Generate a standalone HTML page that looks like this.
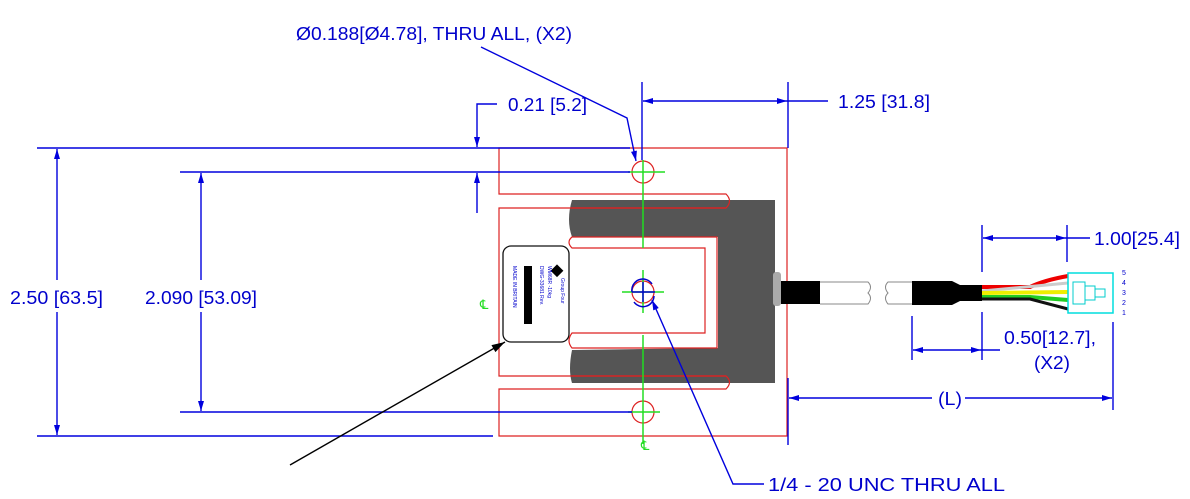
<!DOCTYPE html>
<html><head><meta charset="utf-8"><style>
html,body{margin:0;padding:0;background:#fff;}
svg{display:block;}
text{font-family:"Liberation Sans",sans-serif;fill:#0000cc;}
</style></head><body>
<svg width="1190" height="499" viewBox="0 0 1190 499" xmlns="http://www.w3.org/2000/svg">
<defs>
<marker id="a" viewBox="0 0 10 6" refX="10" refY="3" markerWidth="14" markerHeight="6" orient="auto-start-reverse" markerUnits="userSpaceOnUse"><path d="M0,0L10,3L0,6z" fill="#0000dd"/></marker>
<marker id="k" viewBox="0 0 10 6" refX="10" refY="3" markerWidth="16" markerHeight="8" orient="auto" markerUnits="userSpaceOnUse"><path d="M0,0L10,3L0,6z" fill="#000"/></marker>
</defs>
<path d="M572,200 L775,200 L775,383 L572,383 Q568,370 572,350 L718,348 L718,237 L572,237 Q566,220 572,200Z" fill="#555"/>
<g fill="none" stroke="#dd2222" stroke-width="1.2">
<path d="M499,148 L787,148 L787,436 L499,436 L499,389 L726,389 Q733,382 726,376 L499,376 L499,208 L726,208 Q733,201 726,194 L499,194 Z"/>
<path d="M572,237 L717,237 L717,348 L572,348 Q566,341 572,333 L705,333 L705,248 L572,248 Q566,242 572,237Z" fill="#fff"/>
<path d="M572,208 L726,208 M572,376 L726,376"/>
<circle cx="643" cy="172" r="11" fill="#fff"/>
<circle cx="643" cy="412" r="11" fill="#fff"/>
<circle cx="643" cy="292" r="11"/>
</g>
<path d="M499,208 L499,376" stroke="#dd2222" fill="none"/>
<g stroke="#22dd22" stroke-width="1.5" fill="none">
<line x1="643" y1="160" x2="643" y2="248"/><line x1="628" y1="172" x2="665" y2="172"/>
<line x1="643" y1="270" x2="643" y2="313"/><line x1="622" y1="292" x2="664" y2="292"/>
<line x1="643" y1="335" x2="643" y2="444"/><line x1="628" y1="412" x2="660" y2="412"/>
</g>
<text x="480" y="309" font-size="13" style="fill:#22dd22">℄</text>
<text x="641" y="450" font-size="13" style="fill:#22dd22">℄</text>
<g stroke="#0000cc" stroke-width="1.5" fill="none"><path d="M632,292 A11,11 0 0 1 652,284 M654,296 A11,11 0 0 1 634,302"/><line x1="632" y1="292" x2="655" y2="292"/><line x1="643" y1="282" x2="643" y2="302"/></g>
<rect x="503" y="246" width="66" height="96" rx="8" fill="#fff" stroke="#111" stroke-width="1.3"/>
<rect x="524" y="266" width="8" height="58" fill="#000"/>
<rect x="553" y="266" width="9" height="9" fill="#000" transform="rotate(45 557 270)"/>
<g font-size="5" style="fill:#222"><text transform="translate(561,278) rotate(90)">Group Four</text><text transform="translate(548,266) rotate(90)">WM68R  -10kg</text><text transform="translate(540,266) rotate(90)">DWG-33681 Rev.</text><text transform="translate(513,266) rotate(90)">MADE IN BRITAIN</text></g>
<rect x="773" y="272" width="8" height="34" rx="3" fill="#aaa"/>
<rect x="781" y="281" width="39" height="23" fill="#000"/>
<path d="M820,282 L868,282 Q873,287 868,293 Q873,298 868,304 L820,304" fill="none" stroke="#888"/>
<path d="M912,282 L888,282 Q883,287 888,293 Q883,298 888,304 L912,304" fill="none" stroke="#888"/>
<path d="M912,281 L952,281 L960,285 L982,285 L982,301 L960,301 L952,305 L912,305Z" fill="#000"/>
<g stroke-width="3" fill="none">
<path d="M982,287 L1030,287 Q1045,280 1068,276" stroke="#ee0000" stroke-width="4"/>
<path d="M982,291 L1068,283" stroke="#ccc"/>
<path d="M982,293 L1068,292" stroke="#eeee00" stroke-width="4"/>
<path d="M982,297 L1030,297 L1068,300" stroke="#22cc22" stroke-width="4"/>
<path d="M982,299 L1030,299 L1068,309" stroke="#111"/>
</g>
<rect x="1068" y="273" width="45" height="40" fill="#fff" stroke="#00dddd" stroke-width="1.5"/>
<g stroke="#00cccc" fill="none"><rect x="1073" y="282" width="12" height="22"/><rect x="1085" y="286" width="10" height="14"/><rect x="1095" y="289" width="10" height="8"/></g>
<g font-size="7" style="fill:#dd22dd"><text x="1122" y="275">5</text><text x="1122" y="285">4</text><text x="1122" y="295">3</text><text x="1122" y="305">2</text><text x="1122" y="315">1</text></g>
<g stroke="#0000dd" stroke-width="1.4" fill="none">
<line x1="37" y1="148" x2="630" y2="148"/>
<line x1="180" y1="172" x2="630" y2="172"/>
<line x1="180" y1="412" x2="632" y2="412"/>
<line x1="37" y1="436" x2="493" y2="436"/>
<line x1="57" y1="280" x2="57" y2="149" marker-end="url(#a)"/>
<line x1="57" y1="312" x2="57" y2="435" marker-end="url(#a)"/>
<line x1="201" y1="280" x2="201" y2="173" marker-end="url(#a)"/>
<line x1="201" y1="312" x2="201" y2="411" marker-end="url(#a)"/>
<path d="M497,104 L477,104 L477,147" marker-end="url(#a)"/>
<line x1="477" y1="213" x2="477" y2="173" marker-end="url(#a)"/>
<line x1="642" y1="82" x2="642" y2="160"/>
<line x1="788" y1="82" x2="788" y2="148"/>
<line x1="643" y1="101" x2="787" y2="101" marker-start="url(#a)" marker-end="url(#a)"/>
<line x1="787" y1="101" x2="828" y2="101"/>
<path d="M481,47 L627,118 L636,161" marker-end="url(#a)"/>
<line x1="788" y1="378" x2="788" y2="445"/>
<line x1="1113" y1="322" x2="1113" y2="410"/>
<line x1="789" y1="398" x2="932" y2="398" marker-start="url(#a)"/>
<line x1="965" y1="398" x2="1112" y2="398" marker-end="url(#a)"/>
<line x1="982" y1="225" x2="982" y2="272"/>
<line x1="1067" y1="225" x2="1067" y2="262"/>
<line x1="983" y1="238" x2="1066" y2="238" marker-start="url(#a)" marker-end="url(#a)"/>
<line x1="1066" y1="238" x2="1090" y2="238"/>
<line x1="912" y1="316" x2="912" y2="360"/>
<line x1="982" y1="312" x2="982" y2="360"/>
<line x1="913" y1="350" x2="981" y2="350" marker-start="url(#a)" marker-end="url(#a)"/>
<line x1="981" y1="350" x2="1000" y2="350"/>
<path d="M764,484 L733,484 L652,300" marker-end="url(#a)"/>
</g>
<line x1="290" y1="465" x2="505" y2="342" stroke="#000" stroke-width="1.4" marker-end="url(#k)"/>
<g font-size="18" lengthAdjust="spacingAndGlyphs">
<text x="296" y="40" textLength="276" lengthAdjust="spacingAndGlyphs">Ø0.188[Ø4.78], THRU ALL, (X2)</text>
<text x="508" y="111" textLength="79" lengthAdjust="spacingAndGlyphs">0.21 [5.2]</text>
<text x="838" y="108" textLength="92" lengthAdjust="spacingAndGlyphs">1.25 [31.8]</text>
<text x="10" y="304" textLength="93" lengthAdjust="spacingAndGlyphs">2.50 [63.5]</text>
<text x="145" y="304" textLength="112" lengthAdjust="spacingAndGlyphs">2.090 [53.09]</text>
<text x="1094" y="245" textLength="86" lengthAdjust="spacingAndGlyphs">1.00[25.4]</text>
<text x="1004" y="344" textLength="92" lengthAdjust="spacingAndGlyphs">0.50[12.7],</text>
<text x="1034" y="369" textLength="36" lengthAdjust="spacingAndGlyphs">(X2)</text>
<text x="938" y="405" textLength="24" lengthAdjust="spacingAndGlyphs">(L)</text>
<text x="768" y="491" textLength="237" lengthAdjust="spacingAndGlyphs">1/4 - 20 UNC THRU ALL</text>
</g>
</svg>
</body></html>
